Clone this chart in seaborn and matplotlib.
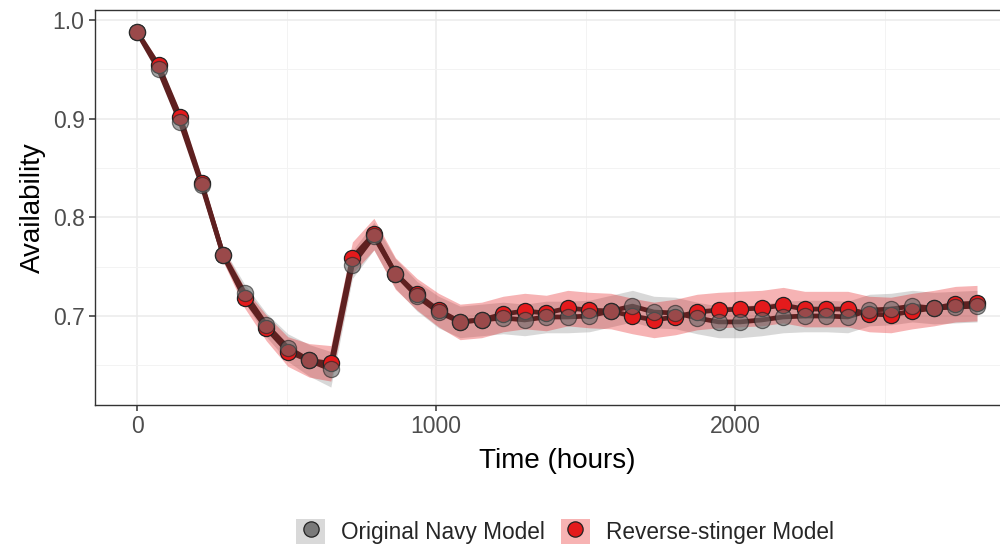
import numpy as np
import pandas as pd
import seaborn as sns
import matplotlib.pyplot as plt
from matplotlib.patches import Patch
from matplotlib.lines import Line2D
from matplotlib.ticker import MultipleLocator

# time points (hours), every 72 h
hours = [72 * i for i in range(40)]

navy = [0.988, 0.950, 0.897, 0.833, 0.762, 0.723, 0.691, 0.668, 0.655, 0.646,
        0.752, 0.781, 0.743, 0.720, 0.704, 0.694, 0.696, 0.698, 0.696, 0.699,
        0.699, 0.700, 0.705, 0.710, 0.704, 0.703, 0.698, 0.694, 0.694, 0.696,
        0.699, 0.700, 0.700, 0.699, 0.706, 0.707, 0.710, 0.708, 0.709, 0.710]
navy_err = [0.003, 0.004, 0.005, 0.006, 0.007, 0.009, 0.012, 0.014, 0.016, 0.018,
            0.014, 0.014, 0.015, 0.015, 0.016, 0.016, 0.016, 0.016, 0.016, 0.016,
            0.016, 0.016, 0.016, 0.016, 0.016, 0.016, 0.016, 0.016, 0.016, 0.016,
            0.016, 0.016, 0.016, 0.016, 0.016, 0.016, 0.016, 0.016, 0.016, 0.016]

stinger = [0.988, 0.954, 0.902, 0.835, 0.762, 0.718, 0.688, 0.664, 0.655, 0.652,
           0.759, 0.783, 0.743, 0.722, 0.706, 0.694, 0.696, 0.702, 0.705, 0.703,
           0.708, 0.706, 0.705, 0.700, 0.696, 0.699, 0.704, 0.706, 0.707, 0.708,
           0.711, 0.707, 0.707, 0.707, 0.702, 0.701, 0.705, 0.708, 0.712, 0.713]
stinger_err = [0.003, 0.004, 0.005, 0.006, 0.007, 0.010, 0.013, 0.015, 0.017, 0.018,
               0.016, 0.016, 0.016, 0.016, 0.017, 0.018, 0.018, 0.018, 0.018, 0.018,
               0.018, 0.018, 0.018, 0.018, 0.018, 0.018, 0.018, 0.018, 0.018, 0.018,
               0.018, 0.018, 0.018, 0.018, 0.018, 0.018, 0.018, 0.018, 0.018, 0.018]

models = ["Original Navy Model", "Reverse-stinger Model"]

df = pd.DataFrame({
    "time": hours * 2,
    "avail": navy + stinger,
    "err": navy_err + stinger_err,
    "model": [models[0]] * len(hours) + [models[1]] * len(hours),
})

sns.set_theme(style="white")
plt.rcParams["font.family"] = ["Liberation Sans", "DejaVu Sans"]

grey = "#7a7a7a"
red = "#e41a1c"
line_col = "#5e2020"

fig = plt.figure(figsize=(10, 5.47), dpi=100)
ax = fig.add_axes([0.095, 0.2596, 0.924, 0.7221])

# ribbons
for m, col, a in [(models[0], "#9a9a9a", 0.38), (models[1], red, 0.33)]:
    d = df[df.model == m]
    ax.fill_between(d.time, d.avail - d.err, d.avail + d.err, color=col,
                    alpha=a, linewidth=0, zorder=2)

sns.lineplot(data=df, x="time", y="avail", hue="model",
             palette={models[0]: line_col, models[1]: line_col},
             linewidth=3.4, legend=False, ax=ax, zorder=3)

sns.scatterplot(data=df[df.model == models[1]], x="time", y="avail", color=red,
                s=135, edgecolor="#222222", linewidth=0.9, legend=False, ax=ax, zorder=4)
sns.scatterplot(data=df[df.model == models[0]], x="time", y="avail", color="#6a6a6a",
                alpha=0.6, s=135, edgecolor="#222222", linewidth=0.9, legend=False,
                ax=ax, zorder=5)

ax.set_xlim(-140.4, 2948.4)
ax.set_ylim(0.6098, 1.0101)
ax.set_xticks([0, 1000, 2000])
ax.set_yticks([0.7, 0.8, 0.9, 1.0])
ax.set_yticklabels(["0.7", "0.8", "0.9", "1.0"])
ax.xaxis.set_minor_locator(MultipleLocator(500))
ax.yaxis.set_minor_locator(MultipleLocator(0.05))
ax.grid(which="major", color="#ebebeb", linewidth=1.1, zorder=0)
ax.grid(which="minor", color="#f3f3f3", linewidth=0.7, zorder=0)
ax.set_axisbelow(True)
ax.tick_params(which="major", direction="out", length=4.5, width=1.1,
               color="#333333", labelsize=16.5, labelcolor="#4d4d4d", pad=3,
               bottom=True, left=True)
ax.tick_params(which="minor", length=0)
for s in ax.spines.values():
    s.set_color("#333333")
    s.set_linewidth(1.0)

ax.set_xlabel("Time (hours)", fontsize=20, color="black", labelpad=7)
ax.set_ylabel("Availability", fontsize=20, color="black", labelpad=5)

handles = [
    (Patch(facecolor="#d9d9d9", edgecolor="none"),
     Line2D([], [], marker="o", linestyle="none", markersize=11,
            markerfacecolor=grey, markeredgecolor="#222222", markeredgewidth=0.9)),
    (Patch(facecolor="#f7b3b3", edgecolor="none"),
     Line2D([], [], marker="o", linestyle="none", markersize=11,
            markerfacecolor=red, markeredgecolor="#222222", markeredgewidth=0.9)),
]
fig.legend(handles, models, loc="center", bbox_to_anchor=(0.565, 0.029),
           ncol=2, frameon=False, fontsize=16.3, handlelength=1.28, handleheight=1.33,
           handletextpad=0.7, columnspacing=0.7)

fig.savefig("out.png", dpi=100)
